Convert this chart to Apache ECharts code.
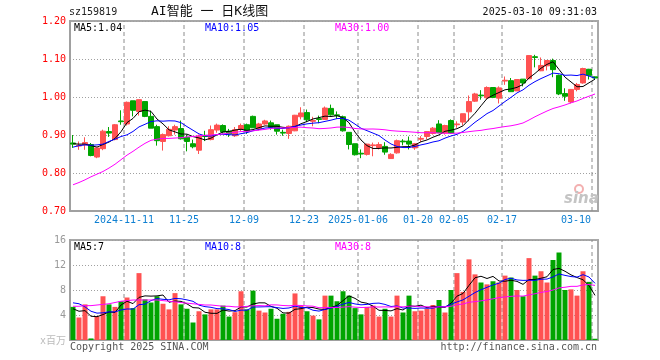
<!DOCTYPE html>
<html><head><meta charset="utf-8">
<script src="https://cdn.jsdelivr.net/npm/echarts/dist/echarts.min.js"></script>
<style>html,body{margin:0;padding:0;background:#fff}#c{width:660px;height:360px}</style>
</head><body><div id="c"></div>
<script>
// ---- data ----
const dates = ['2024-10-29','2024-10-30','2024-10-31','2024-11-01','2024-11-04','2024-11-05','2024-11-06','2024-11-07','2024-11-08','2024-11-11',
'2024-11-12','2024-11-13','2024-11-14','2024-11-15','2024-11-18','2024-11-19','2024-11-20','2024-11-21','2024-11-22','2024-11-25',
'2024-11-26','2024-11-27','2024-11-28','2024-11-29','2024-12-02','2024-12-03','2024-12-04','2024-12-05','2024-12-06','2024-12-09',
'2024-12-10','2024-12-11','2024-12-12','2024-12-13','2024-12-16','2024-12-17','2024-12-18','2024-12-19','2024-12-20','2024-12-23',
'2024-12-24','2024-12-25','2024-12-26','2024-12-27','2024-12-30','2024-12-31','2025-01-02','2025-01-03','2025-01-06','2025-01-07',
'2025-01-08','2025-01-09','2025-01-10','2025-01-13','2025-01-14','2025-01-15','2025-01-16','2025-01-17','2025-01-20','2025-01-21',
'2025-01-22','2025-01-23','2025-01-24','2025-01-27','2025-02-05','2025-02-06','2025-02-07','2025-02-10','2025-02-11','2025-02-12',
'2025-02-13','2025-02-14','2025-02-17','2025-02-18','2025-02-19','2025-02-20','2025-02-21','2025-02-24','2025-02-25','2025-02-26',
'2025-02-27','2025-02-28','2025-03-03','2025-03-04','2025-03-05','2025-03-06','2025-03-07','2025-03-10'];
const opens = [0.879,0.871,0.874,0.875,0.842,0.864,0.909,0.888,0.937,0.929,
0.990,0.962,0.988,0.949,0.922,0.883,0.898,0.913,0.917,0.894,
0.877,0.860,0.899,0.888,0.913,0.925,0.910,0.898,0.915,0.927,
0.949,0.916,0.929,0.932,0.927,0.907,0.904,0.911,0.948,0.959,
0.936,0.943,0.941,0.970,0.953,0.948,0.907,0.877,0.852,0.849,
0.872,0.867,0.870,0.838,0.853,0.884,0.884,0.866,0.889,0.896,
0.904,0.929,0.905,0.938,0.927,0.934,0.961,0.989,1.005,0.998,
1.025,0.997,1.042,1.043,1.016,1.047,1.048,1.106,1.069,1.082,
1.096,1.057,1.009,0.987,1.020,1.037,1.073,1.053];
const closes = [0.876,0.873,0.880,0.846,0.866,0.910,0.905,0.927,0.935,0.986,
0.965,0.993,0.949,0.918,0.885,0.901,0.915,0.922,0.890,0.883,
0.869,0.897,0.896,0.914,0.926,0.908,0.903,0.914,0.925,0.910,
0.919,0.929,0.937,0.920,0.910,0.905,0.923,0.952,0.958,0.940,
0.938,0.941,0.971,0.953,0.951,0.911,0.875,0.848,0.850,0.876,
0.874,0.875,0.855,0.849,0.885,0.882,0.876,0.877,0.891,0.909,
0.918,0.906,0.925,0.905,0.929,0.956,0.988,1.008,1.003,1.025,
0.999,1.024,1.044,1.014,1.046,1.037,1.109,1.104,1.083,1.096,
1.072,1.008,1.002,1.020,1.033,1.075,1.057,1.050];
const lows = [0.866,0.861,0.861,0.844,0.839,0.860,0.895,0.886,0.927,0.925,
0.949,0.951,0.947,0.918,0.872,0.859,0.896,0.901,0.888,0.857,
0.865,0.850,0.884,0.886,0.906,0.904,0.895,0.895,0.910,0.903,
0.919,0.912,0.927,0.914,0.901,0.898,0.890,0.910,0.941,0.934,
0.923,0.931,0.940,0.951,0.942,0.909,0.862,0.846,0.839,0.846,
0.844,0.862,0.848,0.837,0.851,0.873,0.862,0.861,0.882,0.889,
0.901,0.905,0.901,0.903,0.919,0.926,0.936,0.987,0.993,0.993,
0.997,0.983,1.032,1.014,1.016,1.028,1.048,1.078,1.068,1.070,
1.052,1.005,0.990,0.983,1.015,1.035,1.046,1.048];
const highs = [0.900,0.883,0.894,0.879,0.866,0.914,0.921,0.929,0.965,0.988,
0.990,0.993,0.988,0.964,0.927,0.904,0.923,0.927,0.938,0.901,
0.888,0.901,0.911,0.925,0.930,0.928,0.916,0.921,0.930,0.930,
0.951,0.932,0.940,0.938,0.927,0.914,0.925,0.953,0.973,0.967,
0.948,0.951,0.975,0.980,0.962,0.951,0.907,0.877,0.862,0.877,
0.880,0.881,0.881,0.852,0.888,0.889,0.896,0.879,0.897,0.910,
0.921,0.939,0.927,0.941,0.936,0.956,1.004,1.011,1.018,1.028,
1.025,1.028,1.054,1.050,1.047,1.047,1.110,1.111,1.104,1.096,
1.101,1.059,1.023,1.021,1.037,1.077,1.074,1.054];
const volumes = [5.3,3.6,5.7,0.25,3.8,7.0,5.7,5.3,6.2,6.8,
5.1,10.7,6.5,6.0,7.0,5.8,4.9,7.5,5.7,5.0,
2.8,4.6,4.1,4.9,4.9,5.5,3.75,4.45,7.8,4.9,
7.9,4.7,4.4,5.0,3.4,4.2,4.5,7.45,5.5,4.6,
3.9,3.3,7.1,7.1,6.2,7.8,7.1,5.1,4.1,5.3,
5.5,3.75,5.0,3.75,7.1,4.4,7.1,4.6,4.7,5.0,
5.6,6.4,4.4,8.0,10.7,7.7,12.9,10.5,9.2,8.9,
9.4,9.2,10.3,10.0,8.0,7.0,13.1,10.3,11.0,9.2,
12.8,14.0,8.0,8.1,7.1,11.0,9.3,0.2];
// moving-average values read off the chart where earlier history is not shown
const ma5Head = [0.877,0.876,0.876,0.872];
const ma10Head = [0.868,0.872,0.874,0.873,0.874,0.876,0.883,0.889,0.896];
const ma30Head = [0.769,0.775,0.782,0.790,0.797,0.804,0.813,0.823,0.835,0.847,
0.857,0.868,0.878,0.886,0.889,0.891,0.891,0.892,0.893,0.895,
0.896,0.898,0.899,0.900,0.901,0.903,0.905,0.907,0.909];
const vma5Head = [5.0,4.6,4.7,3.8];
const vma10Head = [5.95,5.8,5.3,4.6,4.3,4.35,4.5,4.5,4.8];
const vma30Head = [5.4,5.4,5.5,5.5,5.6,5.7,5.8,6.0,6.2,6.3,
6.4,6.4,6.4,6.4,6.4,6.3,6.2,6.1,6.0,5.9,
5.8,5.7,5.6,5.6,5.5,5.4,5.4,5.3,5.3];
// axis tick labels
const tickIdx = [9,19,29,39,48,58,64,72,87];
const tickText = ['2024-11-11','11-25','12-09','12-23','2025-01-06','01-20','02-05','02-17','03-10'];
const priceMin = 0.70, priceMax = 1.20, priceStep = 0.10;
const volMin = 0, volMax = 16, volStep = 4;
const legendMain = ['MA5:1.04','MA10:1.05','MA30:1.00'];
const legendVol = ['MA5:7','MA10:8','MA30:8'];

// ---- chart ----
const RED = '#ff5252', GREEN = '#00a400';
const MONO = '"DejaVu Sans Mono","Noto Sans CJK SC",monospace';
function ma(arr, n, head) {
  return arr.map((_, i) => {
    if (i < n - 1) return head[i];
    let s = 0; for (let k = i - n + 1; k <= i; k++) s += arr[k];
    return +(s / n).toFixed(4);
  });
}
const showTick = (i) => tickIdx.indexOf(i) >= 0;
const chart = echarts.init(document.getElementById('c'), null, {renderer: 'canvas'});
const gridCommon = {left: 70, width: 528, show: true, borderColor: '#a8a8a8', borderWidth: 2, backgroundColor: 'transparent'};
const axisLine = {show: true, lineStyle: {color: '#a0a0a0', width: 2}};
const hSplit = {show: true, lineStyle: {color: '#a0a0a0', width: 1, type: [1, 2]}};
const lineS = (name, data, color, xi, yi) => ({
  name, type: 'line', data, xAxisIndex: xi, yAxisIndex: yi === undefined ? xi : yi, symbol: 'none', silent: true,
  lineStyle: {color, width: 1}, z: 5
});
// dashed vertical lines on the left boundary of each labelled day (band boundary = value index on a band-count axis)
const dayLineData = (y0, y1) => {
  const out = [];
  tickIdx.forEach((i) => { out.push([i, y0], [i, y1], [i, null]); });
  return out;
};
const dayLines = (xi, yi, y0, y1) => ({
  type: 'line', xAxisIndex: xi, yAxisIndex: yi, data: dayLineData(y0, y1), symbol: 'none', silent: true,
  connectNulls: false, z: 1, lineStyle: {color: '#8c8c8c', width: 1, type: [4, 3]}
});
const txt = (x, y, text, fill, opts) => Object.assign({type: 'text', silent: true, z: 100,
  style: Object.assign({x, y, text, fill, font: '10px ' + MONO, verticalAlign: 'middle'}, opts || {})});

chart.setOption({
  animation: false,
  backgroundColor: '#fff',
  grid: [Object.assign({top: 21, height: 190}, gridCommon), Object.assign({top: 240, height: 100}, gridCommon)],
  xAxis: [
    {type: 'category', data: dates, gridIndex: 0, boundaryGap: true, axisLine, axisTick: {show: false},
     axisLabel: {interval: (i) => showTick(i), color: '#0f80d2', fontSize: 10, fontFamily: MONO, margin: 4,
       padding: [0, 6, 0, 0],
       formatter: (v, i) => { const k = tickIdx.indexOf(i); if (k < 0) return ''; return k === tickIdx.length - 1 ? '{last|' + tickText[k] + '}' : tickText[k]; },
       rich: {last: {padding: [0, 32, 0, 0], color: '#0f80d2', fontSize: 10, fontFamily: MONO}}},
     splitLine: {show: false}},
    {type: 'category', data: dates, gridIndex: 1, boundaryGap: true, axisLine, axisTick: {show: false},
     axisLabel: {show: false}, splitLine: {show: false}},
    {type: 'value', gridIndex: 0, min: 0, max: dates.length, show: false},
    {type: 'value', gridIndex: 1, min: 0, max: dates.length, show: false}
  ],
  yAxis: [
    {type: 'value', gridIndex: 0, min: priceMin, max: priceMax, interval: priceStep, axisLine, axisTick: {show: false},
     axisLabel: {color: '#ff0000', fontSize: 10, fontFamily: MONO, margin: 4, formatter: (v) => v.toFixed(2)},
     splitLine: hSplit},
    {type: 'value', gridIndex: 1, min: volMin, max: volMax, interval: volStep, axisLine, axisTick: {show: false},
     axisLabel: {color: '#999', fontSize: 10, fontFamily: MONO, margin: 4, formatter: (v) => v === 0 ? '' : String(v)},
     splitLine: hSplit}
  ],
  series: [
    dayLines(2, 0, priceMin, priceMax),
    dayLines(3, 1, volMin, volMax),
    {type: 'candlestick', xAxisIndex: 0, yAxisIndex: 0, barWidth: 5, silent: true,
     data: dates.map((_, i) => [opens[i], closes[i], lows[i], highs[i]]),
     itemStyle: {color: RED, color0: GREEN, borderColor: RED, borderColor0: GREEN, borderWidth: 1}, z: 3},
    lineS('MA5', ma(closes, 5, ma5Head), '#000000', 0),
    lineS('MA10', ma(closes, 10, ma10Head), '#0000ff', 0),
    lineS('MA30', ma(closes, 30, ma30Head), '#ff00ff', 0),
    {type: 'bar', xAxisIndex: 1, yAxisIndex: 1, barWidth: 5, silent: true,
     data: volumes.map((v, i) => ({value: v, itemStyle: {color: closes[i] >= opens[i] ? RED : GREEN}})), z: 3},
    lineS('VMA5', ma(volumes, 5, vma5Head), '#000000', 1),
    lineS('VMA10', ma(volumes, 10, vma10Head), '#0000ff', 1),
    lineS('VMA30', ma(volumes, 30, vma30Head), '#ff00ff', 1)
  ],
  graphic: [
    txt(69, 12, 'sz159819', '#222'),
    txt(151, 12, 'AI智能 一 日K线图', '#111', {font: '13px ' + MONO}),
    txt(597, 12, '2025-03-10 09:31:03', '#111', {align: 'right'}),
    txt(74, 28, legendMain[0], '#000'),
    txt(205, 28, legendMain[1], '#0000ff'),
    txt(335, 28, legendMain[2], '#ff00ff'),
    txt(74, 247, legendVol[0], '#000'),
    txt(205, 247, legendVol[1], '#0000ff'),
    txt(335, 247, legendVol[2], '#ff00ff'),
    txt(66, 341, 'x百万', '#bbbbbb', {align: 'right'}),
    txt(70, 347, 'Copyright 2025 SINA.COM', '#555'),
    txt(597, 347, 'http://finance.sina.com.cn', '#555', {align: 'right'}),
    {type: 'circle', silent: true, z: 2, shape: {cx: 579, cy: 189, r: 4}, style: {fill: 'none', stroke: '#f3b0b0', lineWidth: 2}},
    txt(564, 199, 'sina', '#c4c4c4', {font: 'italic bold 15px "DejaVu Sans"', z: 2})
  ]
});
</script></body></html>
